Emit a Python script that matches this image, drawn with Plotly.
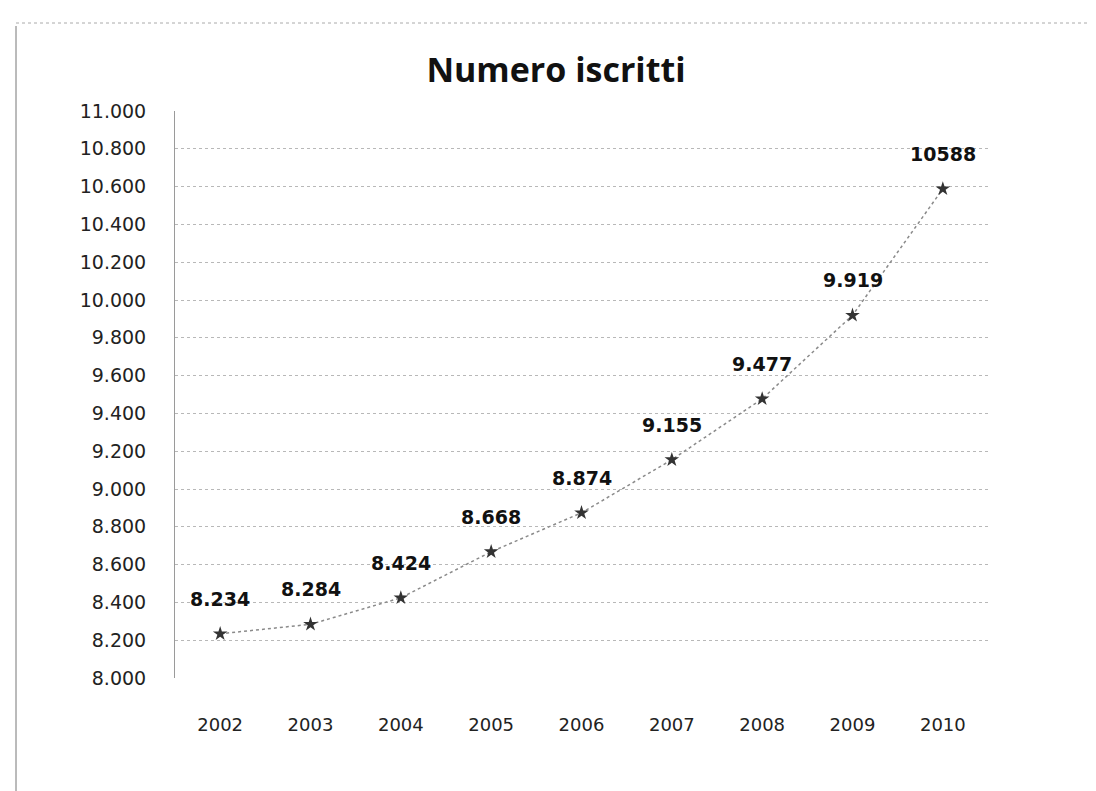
import plotly.graph_objects as go

years = ["2002", "2003", "2004", "2005", "2006", "2007", "2008", "2009", "2010"]
iscritti = [8234, 8284, 8424, 8668, 8874, 9155, 9477, 9919, 10588]
etichette = ["8.234", "8.284", "8.424", "8.668", "8.874", "9.155", "9.477", "9.919", "10588"]
y_ticks = [8000, 8200, 8400, 8600, 8800, 9000, 9200, 9400, 9600, 9800,
           10000, 10200, 10400, 10600, 10800, 11000]
y_tick_labels = ["8.000", "8.200", "8.400", "8.600", "8.800", "9.000", "9.200", "9.400",
                 "9.600", "9.800", "10.000", "10.200", "10.400", "10.600", "10.800", "11.000"]

W, H = 1096, 791
L, R, T, B = 167, 116, 103, 121

fig = go.Figure()
fig.add_trace(go.Scatter(
    x=years, y=iscritti, mode="lines+markers",
    line=dict(color="#8a8a8a", width=1.5, dash="dot"),
    marker=dict(symbol="star", size=11, color="#333333"),
    showlegend=False, hoverinfo="skip",
))

for i, (y, t) in enumerate(zip(iscritti, etichette)):
    fig.add_annotation(x=i, y=y, xref="x", yref="y", text="<b>" + t + "</b>", showarrow=False,
                       yshift=35, font=dict(family="DejaVu Sans", size=19, color="#111111"))

pw = W - L - R
ph = H - T - B
# chart border (left solid, top dotted)
fig.add_shape(type="line", xref="paper", yref="paper",
              x0=(8 - L) / pw, x1=(8 - L) / pw, y0=(H - B - 791) / ph, y1=(H - B - 18) / ph,
              line=dict(color="#777777", width=1))
fig.add_shape(type="line", xref="paper", yref="paper",
              x0=(8 - L) / pw, x1=(1096 - L) / pw, y0=(H - B - 15) / ph, y1=(H - B - 15) / ph,
              line=dict(color="#aaaaaa", width=1, dash="dot"))

fig.update_layout(
    width=W, height=H,
    margin=dict(l=L, r=R, t=T, b=B),
    paper_bgcolor="white", plot_bgcolor="white",
    title=dict(text="<b>Numero iscritti</b>", x=0.5, xanchor="center", y=1 - 62 / H, yanchor="middle",
               font=dict(family="Open Sans", size=34, color="#111111")),
    font=dict(family="DejaVu Sans", color="#222222"),
)
fig.update_xaxes(
    type="category", range=[-0.5, 8.5],
    showgrid=False, showline=False, zeroline=False,
    ticks="", tickfont=dict(family="DejaVu Sans", size=18, color="#222222"),
    ticklabelstandoff=34,
)
fig.update_yaxes(
    range=[8000, 11000], tickvals=y_ticks, ticktext=y_tick_labels,
    showgrid=True, gridcolor="#b8b8b8", griddash="dot", gridwidth=1,
    showline=True, linecolor="#9a9a9a", linewidth=1,
    zeroline=False, ticks="", tickfont=dict(family="DejaVu Sans", size=19, color="#222222"),
    ticklabelstandoff=24,
)

fig.write_html("out.html")
